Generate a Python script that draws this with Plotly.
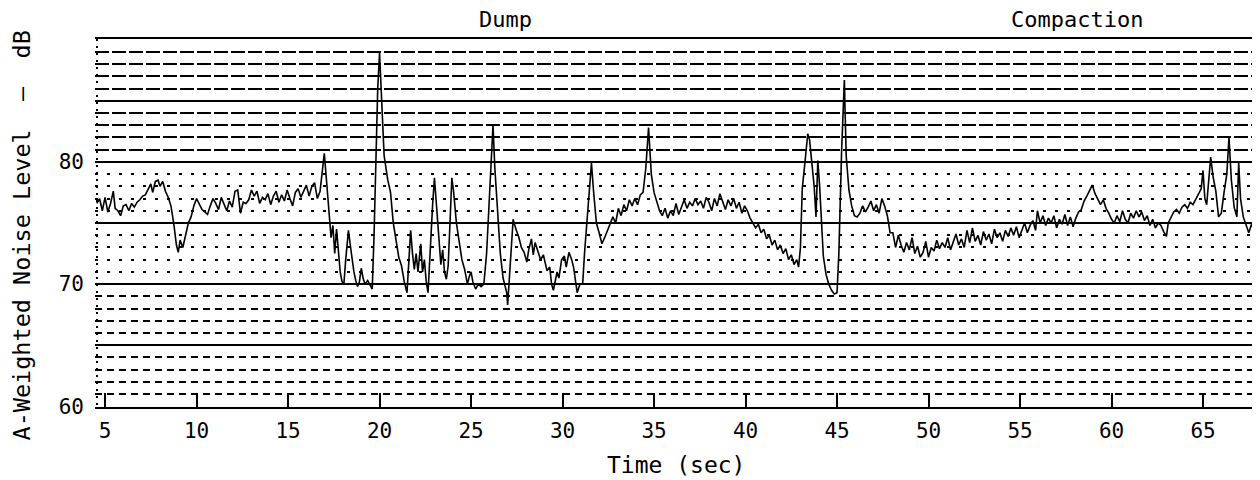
import plotly.graph_objects as go

# Time (sec) and A-weighted level (dB)
time_s = [
    4.55, 4.7, 4.85, 5.0, 5.15, 5.3, 5.45, 5.55, 5.7, 5.85, 6.0, 6.15, 6.3, 6.45, 6.6, 6.75, 6.9,
    7.05, 7.2, 7.35, 7.5, 7.6, 7.75, 7.9, 8.0, 8.15, 8.3, 8.45, 8.6, 8.75, 8.9, 9.0, 9.1, 9.25,
    9.4, 9.55, 9.7, 9.85, 10.0, 10.15, 10.3, 10.45, 10.6, 10.75, 10.9, 11.05, 11.2, 11.35, 11.5,
    11.65, 11.8, 11.95, 12.1, 12.25, 12.4, 12.55, 12.7, 12.85, 13.0, 13.15, 13.3, 13.45, 13.6,
    13.75, 13.9, 14.05, 14.2, 14.35, 14.5, 14.65, 14.8, 14.95, 15.1, 15.25, 15.4, 15.55, 15.7,
    15.85, 16.0, 16.15, 16.3, 16.45, 16.6, 16.75, 16.9, 16.98, 17.1, 17.25, 17.35, 17.45, 17.55,
    17.65, 17.75, 17.85, 17.95, 18.05, 18.15, 18.3, 18.4, 18.5, 18.6, 18.7, 18.8, 18.9, 19.0,
    19.1, 19.2, 19.35, 19.5, 19.6, 19.7, 19.8, 19.9, 20.0, 20.1, 20.25, 20.45, 20.6, 20.75, 20.9,
    21.05, 21.2, 21.35, 21.5, 21.6, 21.7, 21.8, 21.9, 22.0, 22.1, 22.25, 22.35, 22.45, 22.55,
    22.65, 22.75, 22.9, 23.0, 23.1, 23.25, 23.35, 23.45, 23.55, 23.65, 23.75, 23.85, 23.95,
    24.05, 24.2, 24.35, 24.5, 24.65, 24.8, 24.9, 25.0, 25.1, 25.25, 25.4, 25.55, 25.7, 25.85,
    26.0, 26.1, 26.2, 26.3, 26.45, 26.6, 26.75, 26.85, 26.95, 27.0, 27.05, 27.2, 27.3, 27.45,
    27.6, 27.75, 27.9, 28.05, 28.15, 28.3, 28.4, 28.5, 28.65, 28.8, 28.95, 29.05, 29.15, 29.3,
    29.4, 29.5, 29.6, 29.7, 29.8, 29.95, 30.1, 30.2, 30.35, 30.5, 30.6, 30.7, 30.8, 30.95, 31.1,
    31.2, 31.3, 31.45, 31.58, 31.7, 31.85, 32.0, 32.15, 32.3, 32.45, 32.6, 32.75, 32.9, 33.05,
    33.2, 33.35, 33.5, 33.65, 33.8, 33.95, 34.1, 34.25, 34.4, 34.55, 34.7, 34.85, 35.0, 35.15,
    35.3, 35.45, 35.6, 35.75, 35.9, 36.05, 36.2, 36.35, 36.5, 36.65, 36.8, 36.95, 37.1, 37.25,
    37.4, 37.55, 37.7, 37.85, 38.0, 38.15, 38.3, 38.45, 38.6, 38.75, 38.9, 39.05, 39.2, 39.35,
    39.5, 39.65, 39.8, 39.95, 40.1, 40.25, 40.4, 40.55, 40.7, 40.85, 41.0, 41.15, 41.3, 41.45,
    41.6, 41.75, 41.9, 42.05, 42.2, 42.35, 42.5, 42.65, 42.8, 42.9, 43.0, 43.1, 43.25, 43.4,
    43.5, 43.6, 43.75, 43.85, 43.95, 44.05, 44.15, 44.25, 44.4, 44.55, 44.7, 44.85, 45.0, 45.1,
    45.25, 45.4, 45.5, 45.65, 45.8, 45.95, 46.1, 46.25, 46.4, 46.55, 46.7, 46.85, 47.0, 47.15,
    47.3, 47.45, 47.6, 47.75, 47.9, 48.05, 48.2, 48.35, 48.5, 48.65, 48.8, 48.95, 49.1, 49.25,
    49.4, 49.55, 49.7, 49.85, 50.0, 50.15, 50.3, 50.45, 50.6, 50.75, 50.9, 51.05, 51.2, 51.35,
    51.5, 51.65, 51.8, 51.95, 52.1, 52.25, 52.4, 52.55, 52.7, 52.85, 53.0, 53.15, 53.3, 53.45,
    53.6, 53.75, 53.9, 54.05, 54.2, 54.35, 54.5, 54.65, 54.8, 54.95, 55.1, 55.25, 55.4, 55.55,
    55.7, 55.85, 55.95, 56.1, 56.25, 56.4, 56.55, 56.7, 56.85, 57.0, 57.15, 57.3, 57.45, 57.6,
    57.75, 57.9, 58.05, 58.2, 58.35, 58.5, 58.65, 58.8, 58.95, 59.1, 59.25, 59.4, 59.55, 59.7,
    59.85, 60.0, 60.15, 60.3, 60.45, 60.6, 60.75, 60.9, 61.05, 61.2, 61.35, 61.5, 61.65, 61.8,
    61.95, 62.1, 62.25, 62.4, 62.55, 62.7, 62.85, 63.0, 63.1, 63.25, 63.4, 63.55, 63.7, 63.85,
    64.0, 64.15, 64.3, 64.45, 64.6, 64.75, 64.9, 65.0, 65.1, 65.2, 65.3, 65.42, 65.55, 65.7,
    65.85, 66.0, 66.15, 66.3, 66.42, 66.55, 66.7, 66.85, 66.95, 67.05, 67.2, 67.35, 67.5, 67.65,
    67.8, 67.95,
]

level_db = [
    76.6, 77.0, 76.0, 77.1, 75.9, 76.6, 77.6, 76.2, 76.0, 75.6, 76.4, 76.5, 76.0, 76.6, 76.3, 76.7, 76.9,
    77.2, 77.3, 77.8, 78.2, 77.5, 78.4, 78.5, 78.0, 78.4, 77.6, 77.1, 76.4, 75.0, 73.2, 72.6, 73.6, 73.0,
    74.0, 75.0, 75.5, 76.4, 77.0, 76.6, 76.1, 75.9, 75.7, 76.4, 77.0, 76.6, 76.1, 77.1, 76.6,
    76.0, 76.8, 76.3, 77.6, 77.7, 75.8, 76.7, 76.6, 76.9, 77.7, 77.2, 77.6, 76.6, 77.1,
    76.9, 77.4, 76.5, 77.2, 77.6, 76.7, 77.3, 76.8, 77.7, 77.0, 76.4, 77.5, 77.8, 77.1,
    77.6, 78.1, 77.2, 78.0, 78.3, 77.0, 77.6, 79.5, 80.7, 78.5, 75.5, 73.8, 74.8, 72.5,
    74.5, 73.0, 71.0, 70.2, 70.0, 72.0, 74.4, 73.2, 72.0, 71.0, 70.3, 69.8, 70.2, 71.3,
    70.5, 70.0, 70.3, 69.9, 69.6, 74.0, 80.0, 86.0, 88.9, 86.0, 80.5, 78.5, 77.5, 75.0, 73.5,
    72.2, 71.5, 70.2, 69.3, 71.8, 74.4, 72.5, 71.2, 72.5, 71.0, 73.3, 71.0, 72.0, 70.2,
    69.3, 72.5, 76.5, 78.7, 76.5, 73.0, 71.6, 72.8, 71.0, 70.4, 71.5, 75.0, 78.7,
    77.5, 75.0, 73.5, 72.0, 71.2, 70.0, 70.6, 71.0, 70.2, 69.6, 70.0, 69.8, 70.0, 72.5,
    77.0, 80.5, 83.0, 79.5, 76.0, 72.5, 70.5, 70.0, 69.3, 68.3, 69.6, 73.5, 75.3, 74.5,
    73.9, 73.0, 72.6, 71.8, 72.8, 73.7, 72.4, 73.4, 72.6, 72.0, 72.4, 71.6, 71.1, 71.4,
    70.0, 69.5, 70.4, 71.0, 70.5, 72.0, 72.3, 71.4, 72.6, 72.0, 71.4, 70.4, 69.3, 70.0, 70.0,
    72.5, 74.4, 77.5, 79.9, 77.5, 75.0, 74.2, 73.3, 73.8, 74.4, 75.0, 75.5, 75.0, 76.2,
    75.6, 76.5, 76.0, 76.9, 76.4, 77.0, 76.5, 77.3, 77.5, 79.5, 82.8, 79.0, 77.5, 76.8,
    76.0, 75.6, 76.2, 75.4, 76.0, 75.6, 76.6, 75.7, 76.3, 76.9, 76.2, 76.7, 76.4, 77.0,
    76.5, 76.8, 76.2, 77.1, 76.7, 76.0, 77.0, 76.4, 77.4, 76.8, 76.1, 76.9, 76.4, 77.0,
    76.2, 76.7, 75.8, 76.4, 76.0, 75.4, 75.0, 74.6, 74.9, 74.2, 74.5, 73.7, 74.0, 73.2,
    73.6, 72.8, 73.2, 72.5, 72.9, 72.0, 72.4, 71.6, 72.0, 71.4, 73.0, 77.8, 80.0, 82.3,
    81.8, 80.2, 78.0, 75.5, 80.1, 78.0, 75.5, 72.3, 70.8, 70.0, 69.5, 69.2, 69.3, 72.5,
    80.9, 86.7, 80.5, 77.7, 76.4, 75.6, 75.5, 75.8, 76.4, 75.9, 76.3, 76.8, 76.0, 76.5,
    75.8, 77.0, 76.4, 75.6, 74.2, 74.2, 73.0, 74.0, 73.2, 72.6, 73.4, 72.8, 73.8, 72.5,
    73.1, 72.2, 72.6, 73.5, 72.2, 73.0, 72.7, 73.6, 72.9, 73.4, 73.0, 73.8, 72.8, 73.5,
    74.1, 73.2, 73.7, 73.0, 74.4, 73.4, 74.6, 73.5, 74.0, 73.2, 74.3, 73.6, 74.1, 73.3,
    74.5, 73.8, 74.2, 73.5, 74.4, 73.9, 74.6, 74.0, 74.7, 73.8, 74.5, 75.0, 74.2, 74.8,
    75.2, 74.4, 76.0, 75.0, 75.6, 74.8, 75.4, 75.0, 75.6, 74.6, 75.3, 74.9, 75.7, 74.8,
    75.5, 74.7, 75.4, 75.9, 76.1, 76.8, 77.2, 77.6, 78.1, 77.4, 77.0, 76.5, 76.9, 76.2,
    75.8, 75.3, 75.0, 75.6, 75.1, 76.0, 75.3, 75.0, 75.8, 75.4, 76.0, 75.5, 75.9, 75.2,
    75.6, 74.8, 75.3, 74.6, 75.0, 74.8, 74.3, 73.9, 75.0, 75.4, 75.9, 76.1, 75.8, 76.3,
    76.5, 76.2, 76.7, 76.5, 76.9, 77.3, 77.8, 79.3, 77.0, 76.5, 78.5, 80.4, 78.8, 77.6,
    75.5, 75.8, 77.5, 79.0, 82.0, 78.5, 76.3, 75.5, 79.9, 77.0, 75.5, 74.8, 74.2, 74.9,
    74.3, 74.6,
]

x_ticks = [5, 10, 15, 20, 25, 30, 35, 40, 45, 50, 55, 60, 65]
y_major = [65, 70, 75, 80, 85]
y_major_text = ["", "70", "", "80", ""]
y_minor_top = [81, 82, 83, 84, 86, 87, 88, 89]
y_minor_mid = [71, 72, 73, 74, 76, 77, 78, 79]
y_minor_low = [61, 62, 63, 64, 66, 67, 68, 69]
y_edge_labels = [60]
phase_labels = ["Dump", "Compaction"]
phase_pos = [26.9, 58.1]

X_RANGE = [4.45, 67.95]
Y_RANGE = [59.95, 90.05]
FONT = "DejaVu Sans Mono"

fig = go.Figure()
fig.add_trace(go.Scatter(
    x=time_s, y=level_db, mode="lines",
    line=dict(color="black", width=1.6),
    showlegend=False, hoverinfo="skip",
))
# empty traces so that the overlaid grid axes are rendered
for ax_name in ["y2", "y3", "y4", "y5"]:
    fig.add_trace(go.Scatter(x=[None], y=[None], yaxis=ax_name, mode="lines",
                             showlegend=False, hoverinfo="skip"))
fig.add_trace(go.Scatter(x=[None], y=[None], xaxis="x2", mode="lines",
                         showlegend=False, hoverinfo="skip"))

minor_axis = dict(
    overlaying="y", anchor="x", range=Y_RANGE, showgrid=True,
    gridcolor="black", showticklabels=False, ticks="", showline=False,
    zeroline=False, tickmode="array",
)

fig.update_layout(
    width=1252, height=472,
    margin=dict(l=87, r=3, t=31, b=73),
    paper_bgcolor="white", plot_bgcolor="white",
    font=dict(family=FONT, size=21, color="black"),
    xaxis=dict(
        range=X_RANGE, tickmode="array", tickvals=x_ticks,
        ticks="inside", ticklen=14, tickwidth=2, tickcolor="black",
        showgrid=False, zeroline=False, showline=True, mirror=True,
        linecolor="black", linewidth=2.4,
        ticklabelstandoff=4, tickfont=dict(size=21),
    ),
    xaxis2=dict(
        overlaying="x", anchor="y", range=X_RANGE, tickmode="array",
        tickvals=[4.54], showticklabels=False, ticks="", showgrid=True,
        gridcolor="black", gridwidth=1.5, griddash="2px,5px", zeroline=False,
        side="top",
    ),
    yaxis=dict(
        range=Y_RANGE, tickmode="array", tickvals=y_major, ticktext=y_major_text,
        showgrid=True, gridcolor="black", gridwidth=2.4, ticks="",
        zeroline=False, showline=False, ticklabelstandoff=10,
        tickfont=dict(size=21),
    ),
    yaxis2=dict(minor_axis, tickvals=y_minor_top, gridwidth=2, griddash="14px,3px"),
    yaxis3=dict(minor_axis, tickvals=y_minor_mid, gridwidth=1.6, griddash="3px,9px"),
    yaxis4=dict(minor_axis, tickvals=y_minor_low, gridwidth=1.8, griddash="7px,5px"),
    yaxis5=dict(
        overlaying="y", anchor="x", range=Y_RANGE, tickmode="array",
        tickvals=y_edge_labels, showgrid=False, ticks="", zeroline=False,
        showline=False, ticklabelstandoff=10, tickfont=dict(size=21), side="left",
    ),
)

for label, pos in zip(phase_labels, phase_pos):
    fig.add_annotation(
        x=pos, xref="x", y=1, yref="paper", yanchor="bottom", yshift=5,
        text=label, showarrow=False, font=dict(family=FONT, size=22),
    )

fig.add_annotation(
    x=0.5, xref="paper", y=-0.158, yref="paper", yanchor="middle",
    text="Time (sec)", showarrow=False, font=dict(family=FONT, size=23),
)
fig.add_annotation(
    x=-0.0625, xref="paper", y=0.467, yref="paper", xanchor="center", yanchor="middle",
    text="A-Weighted Noise Level\u00a0\u00a0\u2013\u00a0\u00a0dB", textangle=-90,
    showarrow=False, font=dict(family=FONT, size=23.5),
)

fig.write_html("out.html")
